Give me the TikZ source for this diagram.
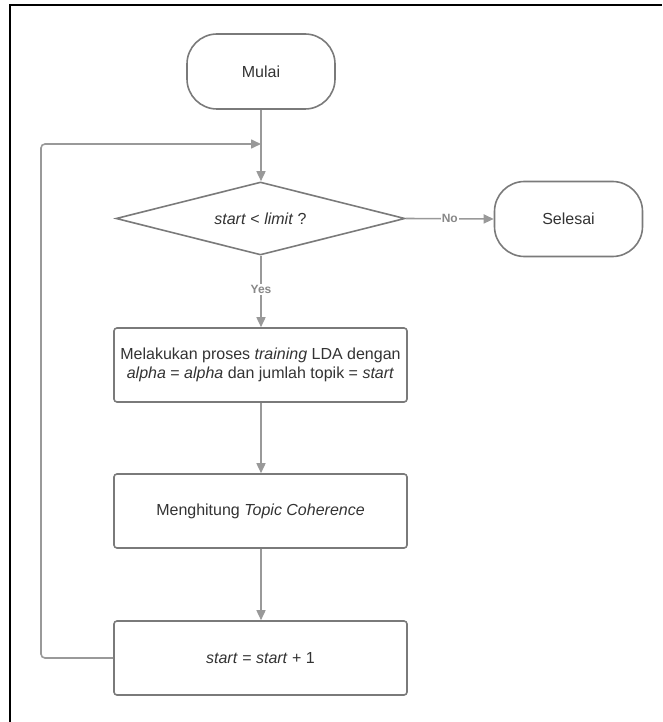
\documentclass[tikz,border=0pt]{standalone}
\usepackage{fontspec}
\setmainfont{Liberation Sans}
\usetikzlibrary{arrows.meta,shapes.geometric}
\definecolor{linec}{HTML}{999999}
\definecolor{boxc}{HTML}{7A7A7A}
\definecolor{txtc}{HTML}{333333}
\definecolor{lblc}{HTML}{888888}
\begin{document}
\begin{tikzpicture}[x=1pt,y=-1pt,
  every node/.style={font=\fontsize{16}{19.5}\selectfont, text=txtc},
  term/.style={draw=boxc, line width=1.6pt, rounded corners=30pt, minimum width=148pt, minimum height=75pt, inner sep=0pt},
  proc/.style={draw=boxc, line width=1.6pt, rounded corners=3pt, minimum width=293pt, minimum height=74pt, inner sep=0pt, align=center},
  decis/.style={draw=boxc, line width=1.6pt, diamond, aspect=3.95, minimum width=289pt, minimum height=73pt, inner sep=0pt},
  conn/.style={draw=linec, line width=1.6pt, -{Triangle[length=10pt,width=9pt]}},
  lbl/.style={font=\fontsize{12}{14}\selectfont\bfseries, text=lblc, fill=white, inner sep=1pt}
]
\useasboundingbox (0,0) rectangle (662,722);
\draw[line width=2.8pt, black] (10,722) -- (10,5) -- (662,5);

\node[term] (mulai) at (261,71.5) {Mulai};
\node[decis] (dec) at (260.5,218.5) {\textit{start} < \textit{limit} ?};
\node[term] (selesai) at (568.5,219) {Selesai};
\node[proc] (p1) at (260.5,365) {Melakukan proses \textit{training} LDA dengan\\\textit{alpha} = \textit{alpha} dan jumlah topik = \textit{start}};
\node[proc] (p2) at (260.5,511) {Menghitung \textit{Topic Coherence}};
\node[proc] (p3) at (260.5,658) {\textit{start} = \textit{start} + 1};

\coordinate (join) at (261,144);
\coordinate (lc) at (41,144);

\draw[conn] (mulai.south) -- (mulai.south |- dec.north);
\draw[conn] (dec.east) -- node[lbl, pos=0.5] {No} (selesai.west);
\draw[conn] (mulai.south |- dec.south) -- node[lbl, pos=0.47] {Yes} (mulai.south |- p1.north);
\draw[conn] (mulai.south |- p1.south) -- (mulai.south |- p2.north);
\draw[conn] (mulai.south |- p2.south) -- (mulai.south |- p3.north);
\draw[conn, rounded corners=4pt] (p3.west) -| (lc) -- (join);
\end{tikzpicture}
\end{document}
